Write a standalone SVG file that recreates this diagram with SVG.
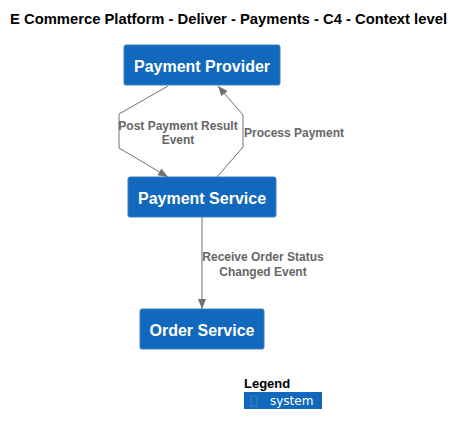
<svg xmlns="http://www.w3.org/2000/svg" width="459" height="434" viewBox="0 0 459 434">
<style>
.node rect{fill:#1168BD;stroke:#3C7FC0;stroke-width:1}
.node text{fill:#fff;font-family:"Liberation Sans",Arial,sans-serif;font-weight:bold;font-size:16px;text-anchor:middle}
.edge{fill:none;stroke:#707070;stroke-width:1}
.lbl{fill:#666;font-family:"Liberation Sans",Arial,sans-serif;font-weight:bold;font-size:12px;text-anchor:middle}
</style>
<defs>
<marker id="arr" viewBox="0 0 10 10" refX="10" refY="5" markerWidth="10" markerHeight="10" markerUnits="userSpaceOnUse" orient="auto">
<path d="M0,1 L10,5 L0,9 Z" fill="#707070"/>
</marker>
</defs>
<rect width="459" height="434" fill="#fff"/>
<text x="10" y="24" font-family="'Liberation Sans',Arial,sans-serif" font-weight="bold" font-size="14" textLength="437" lengthAdjust="spacingAndGlyphs" fill="#000">E Commerce Platform - Deliver - Payments - C4 - Context level</text>
<g id="connectors">
<path class="edge" d="M168,86 L119,114 L119,148 L168,177" marker-end="url(#arr)"/>
<text class="lbl" x="178" y="130">Post Payment Result</text>
<text class="lbl" x="178" y="144">Event</text>
<path class="edge" d="M217,177 L243,147 L243,115 L218,86" marker-end="url(#arr)"/>
<text class="lbl" x="294" y="137">Process Payment</text>
<path class="edge" d="M202,217 L202,309" marker-end="url(#arr)"/>
<text class="lbl" x="263" y="261">Receive Order Status</text>
<text class="lbl" x="263" y="276">Changed Event</text>
</g>
<g id="payment-provider" class="node">
<rect x="124" y="45" width="156" height="40" rx="2"/>
<text x="202" y="72">Payment Provider</text>
</g>
<g id="payment-service" class="node">
<rect x="128" y="177" width="148" height="40" rx="2"/>
<text x="202" y="204">Payment Service</text>
</g>
<g id="order-service" class="node">
<rect x="140" y="309" width="124" height="40" rx="2"/>
<text x="202" y="336">Order Service</text>
</g>
<g id="legend">
<text x="244" y="388" font-family="'Liberation Sans',Arial,sans-serif" font-weight="bold" font-size="13" fill="#000">Legend</text>
<rect x="244" y="392" width="78" height="17" fill="#1168BD"/>
<rect x="251" y="396" width="6" height="10" fill="none" stroke="#3C7FC0" stroke-width="1"/>
<text x="270" y="405" font-family="'DejaVu Sans',sans-serif" font-size="12" fill="#fff">system</text>
</g>
</svg>
